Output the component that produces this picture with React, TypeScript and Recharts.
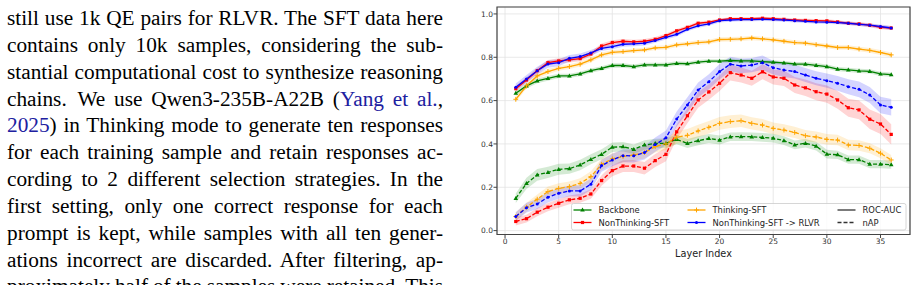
import React from "react";
import {
  ComposedChart,
  Line,
  Area,
  XAxis,
  YAxis,
  CartesianGrid,
  Legend,
  ReferenceArea,
} from "recharts";

const layers = [
  1, 2, 3, 4, 5, 6, 7, 8, 9, 10, 11, 12, 13, 14, 15, 16, 17, 18,
  19, 20, 21, 22, 23, 24, 25, 26, 27, 28, 29, 30, 31, 32, 33, 34, 35, 36,
];

// ROC-AUC per layer
const backboneRoc = [
  0.634, 0.668, 0.691, 0.703, 0.714, 0.714, 0.723, 0.738, 0.749, 0.762, 0.762, 0.757,
  0.765, 0.765, 0.765, 0.772, 0.77, 0.778, 0.782, 0.782, 0.785, 0.783, 0.783, 0.78,
  0.777, 0.774, 0.769, 0.768, 0.763, 0.757, 0.745, 0.742, 0.737, 0.735, 0.723, 0.72,
];
const nonThinkingRoc = [
  0.655, 0.695, 0.738, 0.775, 0.783, 0.788, 0.794, 0.815, 0.852, 0.868, 0.874, 0.871,
  0.874, 0.883, 0.9, 0.922, 0.938, 0.957, 0.962, 0.972, 0.978, 0.978, 0.978, 0.98,
  0.978, 0.975, 0.972, 0.97, 0.969, 0.968, 0.963, 0.957, 0.954, 0.948, 0.938, 0.935,
];
const thinkingRoc = [
  0.606, 0.668, 0.714, 0.734, 0.749, 0.757, 0.768, 0.788, 0.811, 0.823, 0.826, 0.831,
  0.834, 0.843, 0.846, 0.857, 0.862, 0.868, 0.871, 0.882, 0.883, 0.885, 0.889, 0.885,
  0.88, 0.874, 0.868, 0.865, 0.858, 0.852, 0.845, 0.845, 0.838, 0.832, 0.822, 0.811,
];
const rlvrRoc = [
  0.662, 0.7, 0.738, 0.769, 0.775, 0.795, 0.803, 0.82, 0.841, 0.849, 0.86, 0.862,
  0.865, 0.877, 0.892, 0.906, 0.929, 0.945, 0.954, 0.969, 0.972, 0.974, 0.974, 0.975,
  0.974, 0.972, 0.969, 0.966, 0.963, 0.962, 0.96, 0.957, 0.952, 0.948, 0.942, 0.935,
];

// nAP per layer
const backboneNap = [
  0.149, 0.218, 0.257, 0.269, 0.283, 0.286, 0.303, 0.329, 0.352, 0.385, 0.387, 0.375,
  0.395, 0.402, 0.403, 0.421, 0.402, 0.415, 0.425, 0.418, 0.433, 0.434, 0.433, 0.43,
  0.427, 0.415, 0.396, 0.403, 0.39, 0.353, 0.35, 0.328, 0.328, 0.307, 0.307, 0.304,
];
const nonThinkingNap = [
  0.042, 0.055, 0.085, 0.108, 0.126, 0.142, 0.149, 0.169, 0.231, 0.277, 0.298, 0.298,
  0.288, 0.323, 0.352, 0.456, 0.53, 0.603, 0.64, 0.68, 0.729, 0.718, 0.703, 0.733,
  0.709, 0.703, 0.672, 0.659, 0.641, 0.63, 0.603, 0.567, 0.557, 0.514, 0.492, 0.444,
];
const thinkingNap = [
  0.065, 0.108, 0.145, 0.18, 0.195, 0.203, 0.218, 0.249, 0.306, 0.331, 0.342, 0.349,
  0.36, 0.388, 0.4, 0.431, 0.44, 0.46, 0.477, 0.495, 0.503, 0.507, 0.495, 0.487,
  0.472, 0.464, 0.453, 0.438, 0.432, 0.421, 0.418, 0.395, 0.393, 0.38, 0.357, 0.326,
];
const rlvrNap = [
  0.065, 0.106, 0.123, 0.154, 0.172, 0.183, 0.183, 0.214, 0.3, 0.326, 0.346, 0.345,
  0.36, 0.397, 0.428, 0.515, 0.58, 0.649, 0.687, 0.734, 0.768, 0.76, 0.764, 0.775,
  0.752, 0.741, 0.734, 0.718, 0.703, 0.692, 0.68, 0.664, 0.652, 0.626, 0.58, 0.569,
];

// std across runs, drawn as the shaded bands
const backboneRocStd = [
  0.012, 0.012, 0.011, 0.011, 0.01, 0.01, 0.01, 0.01, 0.01, 0.01, 0.01, 0.01,
  0.01, 0.01, 0.01, 0.01, 0.009, 0.009, 0.009, 0.009, 0.009, 0.009, 0.009, 0.009,
  0.009, 0.009, 0.009, 0.01, 0.01, 0.01, 0.01, 0.01, 0.01, 0.01, 0.01, 0.01,
];
const nonThinkingRocStd = [
  0.013, 0.013, 0.012, 0.012, 0.012, 0.012, 0.012, 0.011, 0.011, 0.01, 0.01, 0.01,
  0.01, 0.01, 0.01, 0.009, 0.009, 0.008, 0.008, 0.007, 0.007, 0.007, 0.007, 0.007,
  0.007, 0.007, 0.007, 0.008, 0.008, 0.008, 0.008, 0.008, 0.008, 0.009, 0.009, 0.009,
];
const thinkingRocStd = [
  0.013, 0.012, 0.012, 0.012, 0.011, 0.011, 0.011, 0.011, 0.011, 0.01, 0.01, 0.01,
  0.01, 0.01, 0.01, 0.01, 0.01, 0.01, 0.01, 0.01, 0.01, 0.01, 0.01, 0.01,
  0.01, 0.01, 0.01, 0.01, 0.01, 0.01, 0.01, 0.01, 0.01, 0.011, 0.011, 0.011,
];
const rlvrRocStd = [
  0.017, 0.018, 0.018, 0.017, 0.016, 0.015, 0.014, 0.013, 0.012, 0.012, 0.011, 0.011,
  0.011, 0.01, 0.01, 0.01, 0.009, 0.009, 0.008, 0.008, 0.008, 0.008, 0.008, 0.008,
  0.008, 0.008, 0.008, 0.008, 0.008, 0.008, 0.008, 0.008, 0.008, 0.008, 0.009, 0.009,
];
const backboneNapStd = [
  0.022, 0.026, 0.027, 0.026, 0.025, 0.024, 0.024, 0.023, 0.023, 0.022, 0.022, 0.022,
  0.022, 0.022, 0.022, 0.022, 0.021, 0.021, 0.021, 0.021, 0.02, 0.02, 0.02, 0.02,
  0.02, 0.02, 0.02, 0.02, 0.02, 0.02, 0.019, 0.019, 0.019, 0.019, 0.019, 0.019,
];
const nonThinkingNapStd = [
  0.018, 0.018, 0.019, 0.019, 0.02, 0.02, 0.021, 0.022, 0.024, 0.026, 0.027, 0.028,
  0.029, 0.03, 0.032, 0.034, 0.035, 0.036, 0.036, 0.036, 0.036, 0.035, 0.035, 0.035,
  0.035, 0.036, 0.037, 0.038, 0.039, 0.04, 0.041, 0.042, 0.043, 0.045, 0.046, 0.047,
];
const thinkingNapStd = [
  0.02, 0.021, 0.022, 0.023, 0.023, 0.024, 0.024, 0.025, 0.026, 0.026, 0.027, 0.027,
  0.027, 0.028, 0.028, 0.029, 0.029, 0.029, 0.029, 0.029, 0.029, 0.029, 0.028, 0.028,
  0.027, 0.027, 0.026, 0.026, 0.025, 0.025, 0.024, 0.024, 0.024, 0.023, 0.023, 0.023,
];
const rlvrNapStd = [
  0.02, 0.022, 0.023, 0.024, 0.025, 0.025, 0.026, 0.027, 0.028, 0.029, 0.03, 0.031,
  0.032, 0.033, 0.034, 0.035, 0.035, 0.035, 0.035, 0.035, 0.034, 0.034, 0.033, 0.033,
  0.032, 0.032, 0.032, 0.032, 0.032, 0.033, 0.034, 0.035, 0.036, 0.037, 0.038, 0.038,
];

const xTicks = [0, 5, 10, 15, 20, 25, 30, 35];
const yTicks = [0, 0.2, 0.4, 0.6, 0.8, 1.0];

const paragraph = [
  "still use 1k QE pairs for RLVR. The SFT data here",
  "contains only 10k samples, considering the sub-",
  "stantial computational cost to synthesize reasoning",
  "chains.\u2002We use Qwen3-235B-A22B (",
  "2025) in Thinking mode to generate ten responses",
  "for each training sample and retain responses ac-",
  "cording to 2 different selection strategies. In the",
  "first setting, only one correct response for each",
  "prompt is kept, while samples with all ten gener-",
  "ations incorrect are discarded. After filtering, ap-",
  "proximately half of the samples were retained. This",
];

type Shape = "triangle" | "square" | "plus" | "dot";

interface Model {
  name: string;
  id: string;
  color: string;
  shape: Shape;
  roc: number[];
  rocStd: number[];
  nap: number[];
  napStd: number[];
}

const models: Model[] = [
  { name: "Backbone", id: "bb", color: "#008000", shape: "triangle", roc: backboneRoc, rocStd: backboneRocStd, nap: backboneNap, napStd: backboneNapStd },
  { name: "NonThinking-SFT", id: "nt", color: "#ff0000", shape: "square", roc: nonThinkingRoc, rocStd: nonThinkingRocStd, nap: nonThinkingNap, napStd: nonThinkingNapStd },
  { name: "Thinking-SFT", id: "tk", color: "#ffa500", shape: "plus", roc: thinkingRoc, rocStd: thinkingRocStd, nap: thinkingNap, napStd: thinkingNapStd },
  { name: "NonThinking-SFT -> RLVR", id: "rl", color: "#0000ff", shape: "dot", roc: rlvrRoc, rocStd: rlvrRocStd, nap: rlvrNap, napStd: rlvrNapStd },
];

const rows = layers.map((layer, i) => {
  const row: Record<string, number | number[]> = { layer };
  models.forEach((m) => {
    row[`${m.id}Roc`] = m.roc[i];
    row[`${m.id}RocBand`] = [m.roc[i] - m.rocStd[i], m.roc[i] + m.rocStd[i]];
    row[`${m.id}Nap`] = m.nap[i];
    row[`${m.id}NapBand`] = [m.nap[i] - m.napStd[i], m.nap[i] + m.napStd[i]];
  });
  return row;
});

const X_DOMAIN: [number, number] = [-0.75, 37.75];
const Y_DOMAIN: [number, number] = [-0.018, 1.032];
const FONT = "'DejaVu Sans', sans-serif";

function Marker({ shape, cx, cy, color }: { shape: Shape; cx: number; cy: number; color: string }) {
  switch (shape) {
    case "triangle":
      return <polygon points={`${cx},${cy - 2.4} ${cx - 2.3},${cy + 1.6} ${cx + 2.3},${cy + 1.6}`} fill={color} />;
    case "square":
      return <rect x={cx - 1.6} y={cy - 1.6} width={3.2} height={3.2} fill={color} />;
    case "plus":
      return <path d={`M${cx - 2.4},${cy}H${cx + 2.4}M${cx},${cy - 2.4}V${cy + 2.4}`} stroke={color} strokeWidth={1} />;
    default:
      return <circle cx={cx} cy={cy} r={1.5} fill={color} />;
  }
}

function markerDot(m: Model) {
  return (p: any) => (
    <g key={`${m.id}-${p.dataKey}-${p.index}`}>
      <Marker shape={m.shape} cx={p.cx} cy={p.cy} color={m.color} />
    </g>
  );
}

// legend laid out like matplotlib's 3-column legend (column-major)
const legendCols = [
  [models[0], models[1]],
  [models[2], models[3]],
];

function LegendBox() {
  const rowY = [7, 19.5];
  const colX = [2.5, 116.5];
  const textDx = 25;
  return (
    <svg width={336} height={28} style={{ display: "block", overflow: "visible" }}>
      <rect x={0.5} y={0.5} width={334.5} height={26.5} rx={2} fill="#ffffff" fillOpacity={0.8} stroke="#cccccc" strokeWidth={0.8} />
      {legendCols.map((col, c) =>
        col.map((m, r) => (
          <g key={m.id}>
            <line x1={colX[c]} x2={colX[c] + 18} y1={rowY[r]} y2={rowY[r]} stroke={m.color} strokeWidth={1.3} />
            <Marker shape={m.shape} cx={colX[c] + 9} cy={rowY[r]} color={m.color} />
            <text x={colX[c] + textDx} y={rowY[r]} dominantBaseline="central" fontSize={8.4} fontFamily={FONT} fill="#222">
              {m.name}
            </text>
          </g>
        ))
      )}
      <line x1={266.5} x2={284.5} y1={rowY[0]} y2={rowY[0]} stroke="#333" strokeWidth={1.3} />
      <text x={291.5} y={rowY[0]} dominantBaseline="central" fontSize={8.4} fontFamily={FONT} fill="#222">ROC-AUC</text>
      <line x1={266.5} x2={284.5} y1={rowY[1]} y2={rowY[1]} stroke="#333" strokeWidth={1.3} strokeDasharray="4 2" />
      <text x={291.5} y={rowY[1]} dominantBaseline="central" fontSize={8.4} fontFamily={FONT} fill="#222">nAP</text>
    </svg>
  );
}

function LayerChart() {
  const tickStyle = { fontSize: 7.5, fill: "#333", fontFamily: FONT };
  return (
    <ComposedChart width={457} height={285} data={rows} margin={{ top: 7, right: 7, bottom: 0, left: 0 }}>
      <CartesianGrid stroke="#e3e3e3" strokeWidth={0.8} />
      <XAxis
        dataKey="layer"
        type="number"
        domain={X_DOMAIN}
        ticks={xTicks}
        allowDataOverflow
        height={50.5}
        axisLine={false}
        tickSize={3.5}
        tickMargin={1}
        tickLine={{ stroke: "#444" }}
        tick={tickStyle}
        label={{ value: "Layer Index", position: "insideBottom", offset: 28.5, fontSize: 9.7, fill: "#222", fontFamily: FONT }}
      />
      <YAxis
        type="number"
        domain={Y_DOMAIN}
        ticks={yTicks}
        allowDataOverflow
        width={37}
        axisLine={false}
        tickSize={3.5}
        tickMargin={0.5}
        tickLine={{ stroke: "#444" }}
        tick={tickStyle}
        tickFormatter={(v: number) => v.toFixed(1)}
      />
      {models.map((m) => [
        <Area key={`${m.id}RocBand`} type="linear" dataKey={`${m.id}RocBand`} stroke="none" fill={m.color} fillOpacity={0.17} isAnimationActive={false} activeDot={false} />,
        <Area key={`${m.id}NapBand`} type="linear" dataKey={`${m.id}NapBand`} stroke="none" fill={m.color} fillOpacity={0.17} isAnimationActive={false} activeDot={false} />,
      ])}
      {models.map((m) => [
        <Line key={`${m.id}Roc`} type="linear" dataKey={`${m.id}Roc`} stroke={m.color} strokeWidth={1.3} dot={markerDot(m)} activeDot={false} isAnimationActive={false} />,
        <Line key={`${m.id}Nap`} type="linear" dataKey={`${m.id}Nap`} stroke={m.color} strokeWidth={1.3} strokeDasharray="4 2" dot={markerDot(m)} activeDot={false} isAnimationActive={false} />,
      ])}
      <ReferenceArea x1={X_DOMAIN[0]} x2={X_DOMAIN[1]} y1={Y_DOMAIN[0]} y2={Y_DOMAIN[1]} fill="none" stroke="#444" strokeWidth={1.2} ifOverflow="visible" />
      <Legend
        layout="horizontal"
        verticalAlign="middle"
        align="center"
        wrapperStyle={{ position: "absolute", left: 111, top: 203, width: 336, height: 28 }}
        content={() => <LegendBox />}
      />
    </ComposedChart>
  );
}

export default function App() {
  const cite = "#2020a0";
  return (
    <div style={{ position: "absolute", left: 0, top: 0, width: 917, height: 285, overflow: "hidden", background: "#fff" }}>
      <div style={{ position: "absolute", left: 7, top: 5, width: 436, fontFamily: "'Liberation Serif', 'Times New Roman', serif", fontSize: 21.3, lineHeight: "26.85px", color: "#000" }}>
        {paragraph.map((line, i) => (
          <div
            key={i}
            style={{
              textAlign: "justify",
              textAlignLast: "justify",
              wordSpacing: i === paragraph.length - 1 ? "-1px" : undefined,
            }}
          >
            {i === 3 ? (
              <>
                {line}
                <span style={{ color: cite }}>Yang et al.</span>,
              </>
            ) : i === 4 ? (
              <>
                <span style={{ color: cite }}>2025</span>
                {line.slice(4)}
              </>
            ) : (
              line
            )}
          </div>
        ))}
      </div>
      <div style={{ position: "absolute", left: 460, top: 0 }}>
        <LayerChart />
      </div>
    </div>
  );
}
